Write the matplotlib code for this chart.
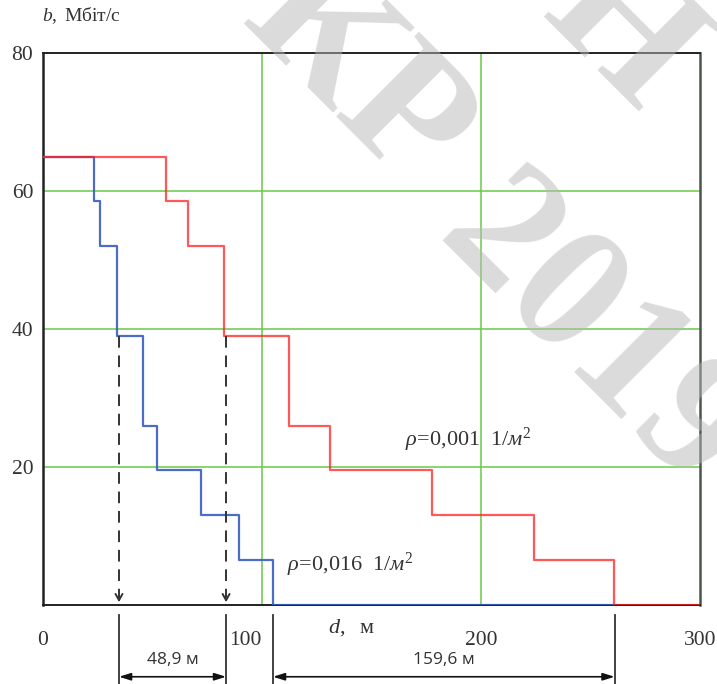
import matplotlib
matplotlib.use('Agg')
from matplotlib import pyplot as plt

# step edges (d, m) and levels (b, Mbit/s)
levels = [65, 58.5, 52, 39, 26, 19.5, 13, 6.5, 0]
red_edges = [0, 56.3, 66.2, 82.6, 112.5, 131.0, 177.6, 224.2, 260.7, 300]
blue_edges = [0, 23.4, 26.2, 33.6, 45.5, 52.0, 72.1, 89.6, 104.9, 260.7]

x_ticks = [0, 100, 200, 300]
x_labels = ['0', '100', '200', '300']
y_ticks = [20, 40, 60, 80]
y_labels = ['20', '40', '60', '80']

# dashed drop lines at b = 39 and the dimension marks under the axis
drop_x = [34.7, 83.6]
drop_level = 39
dims = [(34.7, 83.6, '48,9 м'), (105.0, 261.0, '159,6 м')]

plt.rcParams['font.family'] = ['Liberation Serif', 'DejaVu Serif']
plt.rcParams['mathtext.fontset'] = 'custom'
plt.rcParams['mathtext.rm'] = 'Liberation Serif'
plt.rcParams['mathtext.it'] = 'Liberation Serif:italic'

fig = plt.figure(figsize=(7.17, 6.84), dpi=100)
ax = fig.add_axes([43 / 717, 1 - 605 / 684, 657 / 717, 552 / 684])
ax.set_xlim(0, 300)
ax.set_ylim(0, 80)

# green grid
for gx in [100, 200]:
    ax.axvline(gx, color='#6cc84a', lw=1.3, alpha=0.85, zorder=1)
for gy in [20, 40, 60]:
    ax.axhline(gy, color='#6cc84a', lw=1.3, alpha=0.85, zorder=1)

ax.step(blue_edges, levels + [0], where='post', color='#3a5cc0', lw=1.6, alpha=0.9, zorder=3)
ax.step(red_edges, levels + [0], where='post', color='#ff2020', lw=1.6, alpha=0.75, zorder=4)

# dashed arrows down to the axis
for x in drop_x:
    ax.plot([x, x], [drop_level, 1.2], color='#333333', lw=1.4, ls=(0, (6, 4)), zorder=5)
    ax.annotate('', xy=(x, 0), xytext=(x, 1.6),
                arrowprops=dict(arrowstyle='->,head_length=0.45,head_width=0.25', color='#333333', lw=1.4))

# dimension lines below the axis
for x0, x1, txt in dims:
    for x in (x0, x1):
        ax.plot([x, x], [-1.4, -11.5], color='#333333', lw=1.3, clip_on=False)
    ax.annotate('', xy=(x0, -10.4), xytext=(x1, -10.4), annotation_clip=False,
                arrowprops=dict(arrowstyle='<|-|>,head_length=0.7,head_width=0.22',
                                color='#111111', lw=1.2, shrinkA=0, shrinkB=0))
    ax.text((x0 + x1) / 2, -7.9, txt, ha='center', va='center', fontsize=12.5,
            family=['Open Sans', 'DejaVu Sans'], color='#333333', clip_on=False)

ax.set_xticks(x_ticks)
ax.set_xticklabels(x_labels)
ax.set_yticks(y_ticks)
ax.set_yticklabels(y_labels)
ax.tick_params(axis='both', length=0, labelsize=15.5, colors='#333333')
ax.tick_params(axis='x', pad=19)
ax.tick_params(axis='y', pad=7)
lbl = ax.get_xticklabels()
lbl[1].set_ha('right')
lbl[1].set_x(100)

for s in ['left', 'top', 'bottom']:
    ax.spines[s].set_color('#222222')
ax.spines['left'].set_linewidth(1.8)
ax.spines['bottom'].set_linewidth(1.4)
ax.spines['top'].set_linewidth(1.4)
ax.spines['right'].set_color('#4a564a')
ax.spines['right'].set_linewidth(1.8)

ax.text(130, -3.3, r'$\mathit{d},$  м', ha='left', va='center', fontsize=16, color='#333333', clip_on=False)
fig.text(42 / 717, 1 - 16 / 684, r'$\mathit{b},$ Мбіт/с', ha='left', va='center', fontsize=14, color='#333333')

ax.text(165.3, 24.0, r'$\rho\!=\!0{,}001\ \ 1/\mathit{м}^2$', ha='left', va='center', fontsize=16, color='#333333')
ax.text(111.4, 5.8, r'$\rho\!=\!0{,}016\ \ 1/\mathit{м}^2$', ha='left', va='center', fontsize=16, color='#333333')

# faint watermark (cut by the figure edges, as in the source)
wm = dict(fontsize=130, fontweight='bold', color='#b8b8b8', alpha=0.5, rotation=-45,
          rotation_mode='anchor', ha='center', va='center', family='Liberation Serif', zorder=10)
fig.text(592 / 717, 1 - 336 / 684, '2019', **wm)
fig.text(356 / 717, 1 - 77 / 684, 'КР', **wm)
fig.text(620 / 717, 1 - 35 / 684, 'Н', **wm)

fig.savefig('out.png', dpi=100)
